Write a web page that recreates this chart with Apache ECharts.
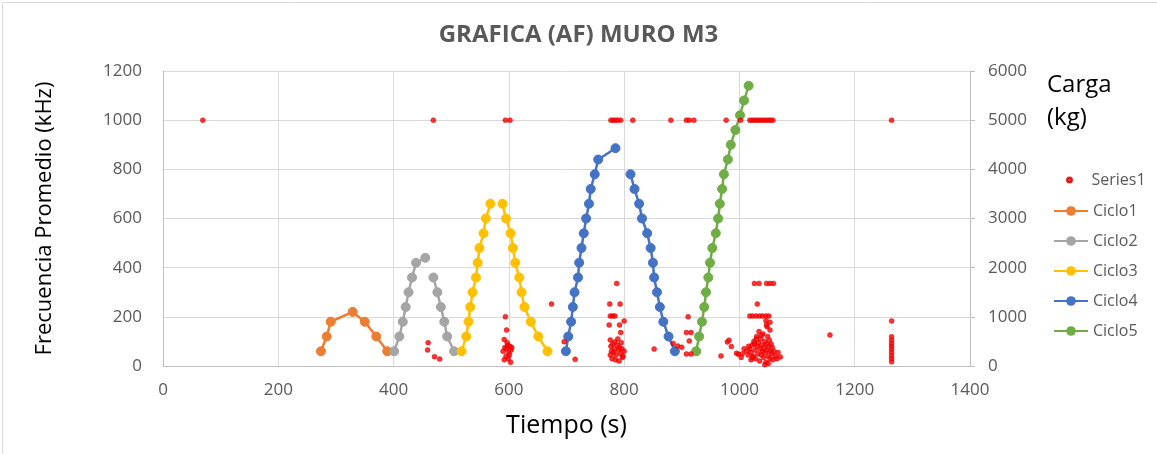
<!DOCTYPE html>
<html>
<head>
<meta charset="utf-8">
<script src="https://cdn.jsdelivr.net/npm/echarts@6/dist/echarts.min.js"></script>
<style>
html,body{margin:0;padding:0;background:#fff;}
#c{width:1157px;height:454px;}
</style>
</head>
<body>
<div id="c"></div>
<script>
// ---- DATA ----
const titleText = 'GRAFICA (AF) MURO M3';
const xTicks = [0, 200, 400, 600, 800, 1000, 1200, 1400];
const leftTicks = [0, 200, 400, 600, 800, 1000, 1200];
const rightTicks = [0, 1000, 2000, 3000, 4000, 5000, 6000];

// Series1: frecuencia promedio (kHz) vs tiempo (s)
const series1T = [
  69,469,594,602,777,781,785,789,794,815,881,908,913,921,977,1002,1018,1022,1026,1030,1034,1038,1042,1046,1050,1054,1058,1264,
  460,459,471,480,
  594,596,592,590,593,596,598,600,602,604,595,599,597,601,605,592,603,
  674,696,715,
  787,775,793,776,780,784,800,774,792,794,776,780,784,788,792,796,778,782,786,790,794,798,779,785,791,797,777,783,789,795,800,776,
  852,885,893,
  911,908,916,913,900,908,916,968,979,982,986,995,998,1005,1008,1003,
  1026,1034,1047,1053,1059,1031,1018,1023,1029,1035,1040,1046,1051,1046,1053,1048,1047,1053,
  1012,1015,1018,1020,1022,1024,1025,1027,1028,1030,1031,1032,1033,1035,1036,1037,1038,1039,1040,1041,1042,1043,1044,1045,1046,1047,1048,1049,1050,1051,1052,1053,1054,1055,1056,1057,1058,1060,1062,1065,1067,1020,1026,1034,1044,1050,1038,1029,1023,1016,1071,
  1157,
  1264,1264,1264,1264,1264,1264,1264,1264,1264,1264
];
const series1V = [
  1000,1000,1000,1000,1000,1000,1000,1000,1000,1000,1000,1000,1000,1000,1000,1000,1000,1000,1000,1000,1000,1000,1000,1000,1000,1000,1000,1000,
  95,65,38,28,
  200,146,108,60,75,70,85,55,80,65,40,30,95,45,75,25,15,
  252,99,27,
  336,252,252,203,203,203,183,167,167,136,106,90,98,85,75,70,60,55,45,65,50,40,30,25,20,35,80,70,110,95,60,45,
  69,92,81,
  200,136,136,102,76,49,49,41,98,105,79,52,48,50,70,35,
  336,336,336,336,336,252,203,203,203,203,203,203,203,184,146,160,167,178,
  60,45,70,55,85,40,100,65,30,120,80,50,95,20,70,110,45,85,60,130,35,75,100,55,15,90,65,120,40,80,105,30,60,90,50,75,25,60,40,30,55,25,90,140,5,10,125,110,35,80,37,
  126,
  183,119,105,92,80,68,55,42,30,17
];

// Ciclos: carga (kg) vs tiempo (s); null = gap
const ciclo1T = [274, 284, 291, 329, 350, 370, 389];
const ciclo1V = [300, 600, 900, 1100, 900, 600, 300];
const ciclo2T = [401, 410, 416, 421, 426, 432, 439, 455, 462, 469, 476, 482, 488, 493, 505];
const ciclo2V = [300, 600, 900, 1200, 1500, 1800, 2100, 2200, null, 1800, 1500, 1200, 900, 600, 300];
const ciclo3T = [518, 526, 530, 533, 537, 543, 546, 549, 556, 560, 568, 578, 589, 595, 603, 607, 611, 618, 622, 627, 638, 651, 667];
const ciclo3V = [300, 600, 900, 1200, 1500, 1800, 2100, 2400, 2700, 3000, 3300, null, 3300, 3000, 2700, 2400, 2100, 1800, 1500, 1200, 900, 600, 300];
const ciclo4T = [699, 703, 708, 711, 714, 720, 722, 726, 730, 734, 739, 742, 749, 755, 785, 798, 811, 818, 826, 831, 840, 846, 850, 852, 857, 862, 868, 877, 888];
const ciclo4V = [300, 600, 900, 1200, 1500, 1800, 2100, 2400, 2700, 3000, 3300, 3600, 3900, 4200, 4430, null, 3900, 3600, 3300, 3000, 2700, 2400, 2100, 1800, 1500, 1200, 900, 600, 300];
const ciclo5T = [925, 930, 935, 939, 942, 946, 949, 953, 959, 963, 966, 970, 973, 980, 985, 993, 1001, 1008, 1016];
const ciclo5V = [300, 600, 900, 1200, 1500, 1800, 2100, 2400, 2700, 3000, 3300, 3600, 3900, 4200, 4500, 4800, 5100, 5400, 5700];

// ---- BUILD ----
const pairs = (t, v) => t.map((x, i) => [x, v[i] === null ? '-' : v[i]]);
const FONT = 'Open Sans';
const GREY = '#595959';
const plain = v => String(v);

const cycles = [
  {name: 'Ciclo1', t: ciclo1T, v: ciclo1V, color: '#ED7D31'},
  {name: 'Ciclo2', t: ciclo2T, v: ciclo2V, color: '#A5A5A5'},
  {name: 'Ciclo3', t: ciclo3T, v: ciclo3V, color: '#FFC000'},
  {name: 'Ciclo4', t: ciclo4T, v: ciclo4V, color: '#4472C4'},
  {name: 'Ciclo5', t: ciclo5T, v: ciclo5V, color: '#70AD47'}
];

const series = [{
  name: 'Series1',
  type: 'scatter',
  yAxisIndex: 0,
  symbol: 'circle',
  symbolSize: 5,
  itemStyle: {color: '#FF0000', borderColor: '#D00000', borderWidth: 0.5},
  data: pairs(series1T, series1V),
  z: 3
}].concat(cycles.map(c => ({
  name: c.name,
  type: 'line',
  yAxisIndex: 1,
  symbol: 'circle',
  symbolSize: 9,
  connectNulls: false,
  lineStyle: {color: c.color, width: 2.5},
  itemStyle: {color: c.color, borderColor: c.color},
  data: pairs(c.t, c.v),
  z: 2
})));

const chart = echarts.init(document.getElementById('c'), null, {renderer: 'canvas'});
chart.setOption({
  animation: false,
  backgroundColor: '#fff',
  textStyle: {fontFamily: FONT},
  title: {
    text: titleText, left: 'center', top: 18,
    textStyle: {fontFamily: FONT, fontSize: 24, fontWeight: 'bold', color: GREY}
  },
  grid: {left: 163, right: 187, top: 71, bottom: 88, containLabel: false},
  legend: [{
    data: [{name: 'Series1', icon: 'circle'}],
    orient: 'vertical', left: 1066, top: 172, padding: 0,
    itemWidth: 34, itemHeight: 5, itemGap: 14,
    textStyle: {fontFamily: FONT, fontSize: 16, color: GREY}
  }, {
    data: ['Ciclo1', 'Ciclo2', 'Ciclo3', 'Ciclo4', 'Ciclo5'],
    orient: 'vertical', left: 1053, top: 203, padding: 0,
    itemWidth: 34, itemHeight: 12, itemGap: 14,
    textStyle: {fontFamily: FONT, fontSize: 16, color: GREY}
  }],
  xAxis: {
    type: 'value', min: xTicks[0], max: xTicks[xTicks.length - 1], interval: 200,
    name: 'Tiempo (s)', nameLocation: 'middle', nameGap: 47,
    nameTextStyle: {fontFamily: FONT, fontSize: 25, color: '#000'},
    axisLine: {show: true, lineStyle: {color: '#BFBFBF'}},
    axisTick: {show: false},
    axisLabel: {fontFamily: FONT, fontSize: 17, color: GREY, margin: 16, formatter: plain},
    splitLine: {show: true, lineStyle: {color: '#D9D9D9', width: 1}}
  },
  yAxis: [{
    type: 'value', min: leftTicks[0], max: leftTicks[leftTicks.length - 1], interval: 200,
    name: 'Frecuencia Promedio (kHz)', nameLocation: 'middle', nameGap: 107, nameRotate: 90,
    nameTextStyle: {fontFamily: FONT, fontSize: 22, color: '#000'},
    axisLine: {show: true, lineStyle: {color: '#BFBFBF'}},
    axisTick: {show: false},
    axisLabel: {fontFamily: FONT, fontSize: 17, color: GREY, margin: 21, formatter: plain},
    splitLine: {show: true, lineStyle: {color: '#D9D9D9', width: 1}}
  }, {
    type: 'value', position: 'right', min: rightTicks[0], max: rightTicks[rightTicks.length - 1], interval: 1000,
    axisLine: {show: true, lineStyle: {color: '#BFBFBF'}},
    axisTick: {show: true, inside: false, length: 5, lineStyle: {color: '#BFBFBF'}},
    axisLabel: {fontFamily: FONT, fontSize: 17, color: GREY, margin: 18, formatter: plain},
    splitLine: {show: false}
  }],
  graphic: [
    {type: 'rect', left: 0, top: 0, z: -10, silent: true,
     shape: {x: 0.5, y: 0.5, width: 1155, height: 452},
     style: {fill: 'none', stroke: '#D9D9D9', lineWidth: 1}},
    {type: 'text', left: 1047, top: 69,
     style: {text: 'Carga\n(kg)', font: '24px "Open Sans"', fill: '#000', lineHeight: 33}}
  ],
  series: series
});
</script>
</body>
</html>
